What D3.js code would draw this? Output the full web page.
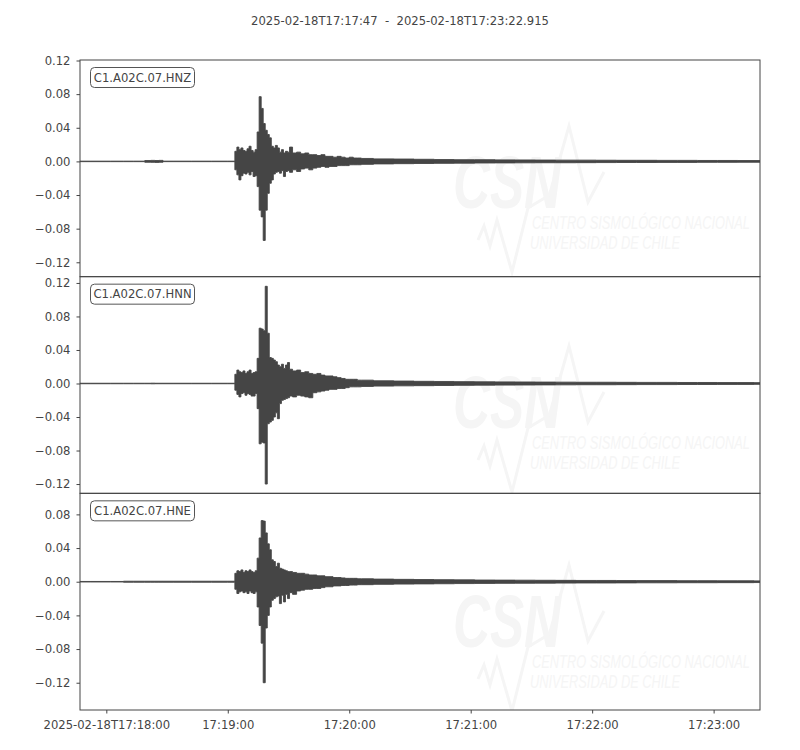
<!DOCTYPE html>
<html>
<head>
<meta charset="utf-8">
<script src="https://cdn.jsdelivr.net/npm/d3@7"></script>
<style>
  html, body { margin: 0; padding: 0; background: #fff; }
  svg { display: block; }
</style>
</head>
<body>
<div id="chart"></div>
<script>
// ---- DATA ----
const titleText = "2025-02-18T17:17:47  -  2025-02-18T17:23:22.915";
const channels = ["C1.A02C.07.HNZ", "C1.A02C.07.HNN", "C1.A02C.07.HNE"];
const startISO = "2025-02-18T17:17:47.000Z";
const endISO = "2025-02-18T17:23:22.915Z";

// envelope sample times, seconds after start
const sampleTimes = [
  0, 10, 20, 23, 30, 34, 36, 38, 40, 42, 50, 60, 70, 76,
  77, 78, 79, 80, 81, 82, 83, 84, 85, 86, 87, 88, 89, 90, 91, 92, 93, 94, 95, 96, 97, 98, 99, 100, 101, 102, 103,
  104, 106, 108, 110, 112, 114, 116, 118, 120, 122, 124, 126, 128, 130, 132, 134, 136, 138, 140,
  150, 160, 170, 180, 190, 200, 210, 220, 230, 240, 250, 260, 270, 280, 290, 300, 310, 320, 330, 335.9
];

const hnzHigh = [
  0.0003, 0.0003, 0.0003, 0.0003, 0.0003, 0.0010, 0.0012, 0.0010, 0.0012, 0.0003, 0.0003, 0.0003, 0.0003, 0.0003,
  0.012, 0.017, 0.014, 0.016, 0.013, 0.012, 0.015, 0.018, 0.013, 0.011, 0.014, 0.035, 0.077, 0.063, 0.045, 0.037, 0.032, 0.028, 0.018, 0.016, 0.019, 0.016, 0.011, 0.014, 0.010, 0.012, 0.011,
  0.017, 0.010, 0.011, 0.009, 0.010, 0.008, 0.008, 0.007, 0.008, 0.006, 0.006, 0.005, 0.006, 0.005, 0.004, 0.005, 0.004, 0.004, 0.0035,
  0.0030, 0.0028, 0.0025, 0.0022, 0.0020, 0.0020, 0.0018, 0.0017, 0.0016, 0.0015, 0.0015, 0.0014, 0.0013, 0.0013, 0.0012, 0.0012, 0.0011, 0.0011, 0.0010, 0.0010
];
const hnzLow = [
  -0.0003, -0.0003, -0.0003, -0.0003, -0.0003, -0.0010, -0.0011, -0.0012, -0.0010, -0.0003, -0.0003, -0.0003, -0.0003, -0.0003,
  -0.010, -0.016, -0.022, -0.017, -0.014, -0.015, -0.013, -0.016, -0.012, -0.018, -0.017, -0.030, -0.058, -0.066, -0.094, -0.058, -0.038, -0.026, -0.022, -0.015, -0.013, -0.012, -0.014, -0.011, -0.018, -0.012, -0.011,
  -0.013, -0.010, -0.012, -0.009, -0.008, -0.010, -0.008, -0.007, -0.006, -0.007, -0.006, -0.006, -0.005, -0.005, -0.005, -0.004, -0.004, -0.004, -0.0035,
  -0.0030, -0.0027, -0.0025, -0.0023, -0.0021, -0.0019, -0.0018, -0.0017, -0.0016, -0.0016, -0.0015, -0.0014, -0.0013, -0.0013, -0.0012, -0.0012, -0.0011, -0.0011, -0.0010, -0.0010
];

const hnnHigh = [
  0.0003, 0.0003, 0.0003, 0.0003, 0.0003, 0.0003, 0.0004, 0.0003, 0.0003, 0.0003, 0.0003, 0.0003, 0.0003, 0.0003,
  0.011, 0.016, 0.014, 0.013, 0.015, 0.012, 0.014, 0.016, 0.012, 0.013, 0.014, 0.030, 0.066, 0.065, 0.063, 0.116, 0.060, 0.031, 0.030, 0.028, 0.026, 0.022, 0.020, 0.023, 0.018, 0.022, 0.025,
  0.017, 0.015, 0.016, 0.013, 0.014, 0.012, 0.011, 0.012, 0.010, 0.009, 0.009, 0.008, 0.007, 0.006, 0.005, 0.005, 0.005, 0.004, 0.004,
  0.0032, 0.0029, 0.0026, 0.0024, 0.0022, 0.0020, 0.0019, 0.0018, 0.0017, 0.0016, 0.0015, 0.0015, 0.0014, 0.0013, 0.0013, 0.0012, 0.0012, 0.0011, 0.0011, 0.0010
];
const hnnLow = [
  -0.0003, -0.0003, -0.0003, -0.0003, -0.0003, -0.0003, -0.0004, -0.0003, -0.0003, -0.0003, -0.0003, -0.0003, -0.0003, -0.0003,
  -0.008, -0.013, -0.016, -0.012, -0.011, -0.014, -0.012, -0.013, -0.015, -0.015, -0.012, -0.030, -0.072, -0.070, -0.071, -0.120, -0.048, -0.046, -0.044, -0.040, -0.035, -0.042, -0.024, -0.020, -0.019, -0.018, -0.017,
  -0.015, -0.016, -0.014, -0.015, -0.016, -0.017, -0.011, -0.010, -0.009, -0.008, -0.007, -0.007, -0.006, -0.006, -0.005, -0.004, -0.004, -0.004, -0.0035,
  -0.0031, -0.0028, -0.0026, -0.0024, -0.0022, -0.0020, -0.0019, -0.0018, -0.0017, -0.0016, -0.0015, -0.0015, -0.0014, -0.0013, -0.0013, -0.0012, -0.0012, -0.0011, -0.0011, -0.0010
];

const hneHigh = [
  0.0003, 0.0003, 0.0003, 0.0006, 0.0006, 0.0006, 0.0006, 0.0006, 0.0006, 0.0006, 0.0006, 0.0006, 0.0006, 0.0006,
  0.010, 0.013, 0.012, 0.014, 0.011, 0.013, 0.012, 0.014, 0.012, 0.011, 0.013, 0.028, 0.052, 0.0726, 0.072, 0.058, 0.045, 0.038, 0.026, 0.024, 0.018, 0.022, 0.016, 0.015, 0.014, 0.013, 0.012,
  0.012, 0.011, 0.010, 0.010, 0.009, 0.008, 0.008, 0.007, 0.007, 0.006, 0.006, 0.005, 0.005, 0.0045, 0.004, 0.004, 0.004, 0.0035, 0.0035,
  0.0031, 0.0028, 0.0026, 0.0024, 0.0022, 0.0020, 0.0019, 0.0018, 0.0017, 0.0016, 0.0015, 0.0015, 0.0014, 0.0013, 0.0013, 0.0012, 0.0012, 0.0011, 0.0011, 0.0010
];
const hneLow = [
  -0.0003, -0.0003, -0.0003, -0.0006, -0.0006, -0.0006, -0.0006, -0.0006, -0.0006, -0.0006, -0.0006, -0.0006, -0.0006, -0.0006,
  -0.009, -0.014, -0.012, -0.011, -0.013, -0.012, -0.014, -0.011, -0.013, -0.014, -0.012, -0.030, -0.052, -0.073, -0.120, -0.055, -0.040, -0.030, -0.022, -0.020, -0.018, -0.017, -0.026, -0.016, -0.024, -0.015, -0.020,
  -0.013, -0.015, -0.011, -0.010, -0.009, -0.009, -0.008, -0.008, -0.007, -0.006, -0.006, -0.005, -0.005, -0.0045, -0.0045, -0.004, -0.004, -0.0035, -0.0035,
  -0.0031, -0.0028, -0.0026, -0.0024, -0.0022, -0.0020, -0.0019, -0.0018, -0.0017, -0.0016, -0.0015, -0.0015, -0.0014, -0.0013, -0.0013, -0.0012, -0.0012, -0.0011, -0.0011, -0.0010
];

const yDomains = [[-0.1371, 0.1206], [-0.1311, 0.1275], [-0.1524, 0.1050]];
const yTicks = [
  [0.12, 0.08, 0.04, 0.00, -0.04, -0.08, -0.12],
  [0.12, 0.08, 0.04, 0.00, -0.04, -0.08, -0.12],
  [0.08, 0.04, 0.00, -0.04, -0.08, -0.12]
];
const xTickTimes = ["2025-02-18T17:18:00Z", "2025-02-18T17:19:00Z", "2025-02-18T17:20:00Z",
                    "2025-02-18T17:21:00Z", "2025-02-18T17:22:00Z", "2025-02-18T17:23:00Z"];
const xTickLabels = ["2025-02-18T17:18:00", "17:19:00", "17:20:00", "17:21:00", "17:22:00", "17:23:00"];
const watermarkLines = ["CENTRO SISMOLÓGICO NACIONAL", "UNIVERSIDAD DE CHILE"];

// ---- CHART ----
(function () {
const W = 800, H = 750;
const plotL = 80, plotR = 760, plotT = 60, plotB = 710;
const panelH = (plotB - plotT) / 3;
const ink = "#444444";
const waveColor = "#454545";
const font = "'DejaVu Sans', sans-serif";
const fs = 11.6;

const svg = d3.select("#chart").append("svg").attr("width", W).attr("height", H);

const start = new Date(startISO), end = new Date(endISO);
const x = d3.scaleUtc().domain([start, end]).range([plotL, plotR]);
const tDate = s => new Date(start.getTime() + s * 1000);

svg.append("text").attr("x", 400).attr("y", 25).attr("text-anchor", "middle")
  .attr("font-family", font).attr("font-size", fs).attr("fill", ink)
  .style("white-space", "pre")
  .text(titleText);

const highs = [hnzHigh, hnnHigh, hneHigh];
const lows = [hnzLow, hnnLow, hneLow];
const wmOffsets = [0, 220, 439];
const fmt = v => (v < 0 ? "\u2212" : "") + Math.abs(v).toFixed(2);

channels.forEach((ch, i) => {
  const py0 = plotT + i * panelH, py1 = py0 + panelH;
  const y = d3.scaleLinear().domain(yDomains[i]).range([py1, py0]);
  const g = svg.append("g");

  const clipId = "clip" + i;
  svg.append("clipPath").attr("id", clipId).append("rect")
    .attr("x", plotL).attr("y", py0).attr("width", plotR - plotL).attr("height", panelH);

  // watermark
  const wmWrap = g.append("g").attr("clip-path", `url(#${clipId})`);
  const wm = wmWrap.append("g").attr("transform", `translate(0,${wmOffsets[i]})`);
  const wmc = "#f5f5f5";
  wm.append("polyline").attr("points", "478,240 484,226 490,246 497,220 512,272 528,208 548,196")
    .attr("fill", "none").attr("stroke", wmc).attr("stroke-width", 3);
  wm.append("polyline").attr("points", "548,200 569,126 588,202 604,172")
    .attr("fill", "none").attr("stroke", wmc).attr("stroke-width", 3);
  wm.append("text").attr("x", 453).attr("y", 208).attr("textLength", 108).attr("lengthAdjust", "spacingAndGlyphs")
    .attr("font-family", "'Liberation Sans Narrow', 'Liberation Sans', sans-serif").attr("font-weight", "bold")
    .attr("font-style", "italic").attr("font-size", 74).attr("fill", wmc).text("CSN");
  wm.append("text").attr("x", 532).attr("y", 229).attr("textLength", 218).attr("lengthAdjust", "spacingAndGlyphs")
    .attr("font-family", "'Liberation Sans Narrow', 'Liberation Sans', sans-serif")
    .attr("font-style", "italic").attr("font-size", 18).attr("fill", wmc).text(watermarkLines[0]);
  wm.append("text").attr("x", 530).attr("y", 249).attr("textLength", 150).attr("lengthAdjust", "spacingAndGlyphs")
    .attr("font-family", "'Liberation Sans Narrow', 'Liberation Sans', sans-serif")
    .attr("font-style", "italic").attr("font-size", 18).attr("fill", wmc).text(watermarkLines[1]);

  // waveform envelope
  const pts = sampleTimes.map((t, k) => ({ t, hi: highs[i][k], lo: lows[i][k] }));
  const area = d3.area().curve(d3.curveStep)
    .x(d => x(tDate(d.t))).y0(d => y(d.lo)).y1(d => y(d.hi));
  g.append("path").datum(pts).attr("clip-path", `url(#${clipId})`)
    .attr("d", area).attr("fill", waveColor).attr("stroke", waveColor).attr("stroke-width", 0.9);

  // frame
  g.append("rect").attr("x", plotL).attr("y", py0).attr("width", plotR - plotL).attr("height", panelH)
    .attr("fill", "none").attr("stroke", ink).attr("stroke-width", 1);

  // y axis
  const yAxis = d3.axisLeft(y).tickValues(yTicks[i]).tickSize(3.5).tickPadding(6).tickFormat(fmt);
  const ya = g.append("g").attr("transform", `translate(${plotL},0)`).call(yAxis);
  ya.select(".domain").remove();
  ya.selectAll("line").attr("stroke", ink);
  ya.selectAll("text").attr("font-family", font).attr("font-size", fs).attr("fill", ink);

  // channel label
  const lab = g.append("g");
  lab.append("rect").attr("x", 90.5).attr("y", py0 + 7.5).attr("width", 104).attr("height", 20)
    .attr("rx", 4).attr("ry", 4).attr("fill", "#fff").attr("stroke", "#555").attr("stroke-width", 1);
  lab.append("text").attr("x", 142.5).attr("y", py0 + 21.5).attr("text-anchor", "middle")
    .attr("font-family", font).attr("font-size", fs).attr("fill", ink).text(ch);

  if (i === 2) {
    const xAxis = d3.axisBottom(x).tickValues(xTickTimes.map(s => new Date(s)))
      .tickSize(3.5).tickPadding(7).tickFormat((d, k) => xTickLabels[k]);
    const xa = g.append("g").attr("transform", `translate(0,${plotB})`).call(xAxis);
    xa.select(".domain").remove();
    xa.selectAll("line").attr("stroke", ink);
    xa.selectAll("text").attr("font-family", font).attr("font-size", fs).attr("fill", ink);
  }
});
})();
</script>
</body>
</html>
